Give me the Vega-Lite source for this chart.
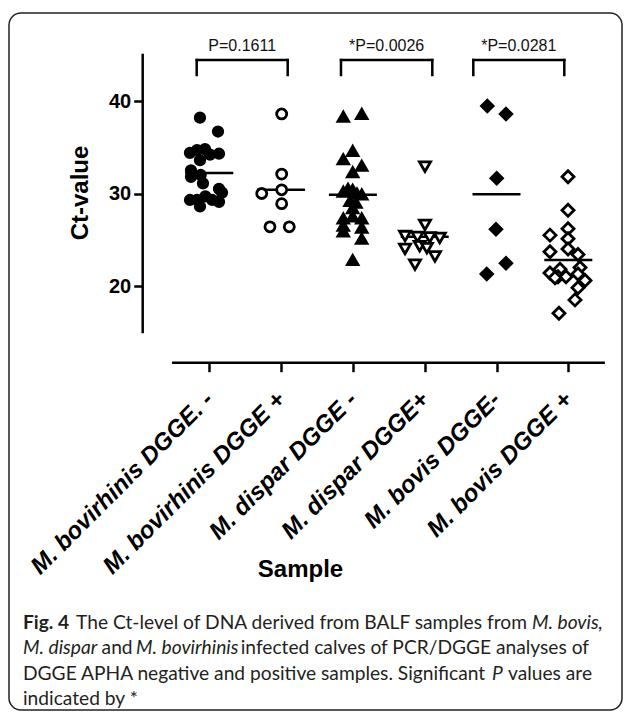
{
  "$schema": "https://vega.github.io/schema/vega-lite/v6.json",
  "width": 613,
  "height": 697,
  "autosize": {"type": "none"},
  "padding": {"left": 9, "top": 13, "right": 8, "bottom": 2},
  "background": "white",
  "config": {
    "view": {"stroke": "#222222", "strokeWidth": 1.5, "cornerRadius": 12},
    "axis": {"grid": false, "domain": false, "tickColor": "black", "tickWidth": 2.5, "tickSize": 9, "labelColor": "black", "titleColor": "black", "labelFont": "Liberation Sans", "titleFont": "Liberation Sans"}
  },
  "data": {
    "values": [
      {"sample": "M. bovirhinis DGGE. -", "group": 1, "xpos": 0.870, "ct": 38.2},
      {"sample": "M. bovirhinis DGGE. -", "group": 1, "xpos": 1.121, "ct": 36.7},
      {"sample": "M. bovirhinis DGGE. -", "group": 1, "xpos": 0.731, "ct": 34.4},
      {"sample": "M. bovirhinis DGGE. -", "group": 1, "xpos": 0.829, "ct": 34.7},
      {"sample": "M. bovirhinis DGGE. -", "group": 1, "xpos": 0.940, "ct": 34.8},
      {"sample": "M. bovirhinis DGGE. -", "group": 1, "xpos": 1.010, "ct": 34.2},
      {"sample": "M. bovirhinis DGGE. -", "group": 1, "xpos": 1.135, "ct": 34.3},
      {"sample": "M. bovirhinis DGGE. -", "group": 1, "xpos": 0.870, "ct": 33.6},
      {"sample": "M. bovirhinis DGGE. -", "group": 1, "xpos": 0.745, "ct": 32.5},
      {"sample": "M. bovirhinis DGGE. -", "group": 1, "xpos": 0.880, "ct": 32.0},
      {"sample": "M. bovirhinis DGGE. -", "group": 1, "xpos": 0.745, "ct": 31.8},
      {"sample": "M. bovirhinis DGGE. -", "group": 1, "xpos": 0.912, "ct": 31.1},
      {"sample": "M. bovirhinis DGGE. -", "group": 1, "xpos": 1.135, "ct": 30.5},
      {"sample": "M. bovirhinis DGGE. -", "group": 1, "xpos": 1.177, "ct": 30.1},
      {"sample": "M. bovirhinis DGGE. -", "group": 1, "xpos": 0.731, "ct": 29.3},
      {"sample": "M. bovirhinis DGGE. -", "group": 1, "xpos": 0.829, "ct": 29.3},
      {"sample": "M. bovirhinis DGGE. -", "group": 1, "xpos": 0.945, "ct": 29.7},
      {"sample": "M. bovirhinis DGGE. -", "group": 1, "xpos": 1.040, "ct": 29.3},
      {"sample": "M. bovirhinis DGGE. -", "group": 1, "xpos": 1.135, "ct": 29.1},
      {"sample": "M. bovirhinis DGGE. -", "group": 1, "xpos": 0.870, "ct": 28.6},
      {"sample": "M. bovirhinis DGGE +", "group": 2, "xpos": 2.008, "ct": 38.6},
      {"sample": "M. bovirhinis DGGE +", "group": 2, "xpos": 2.008, "ct": 32.1},
      {"sample": "M. bovirhinis DGGE +", "group": 2, "xpos": 1.730, "ct": 30.0},
      {"sample": "M. bovirhinis DGGE +", "group": 2, "xpos": 2.008, "ct": 30.4},
      {"sample": "M. bovirhinis DGGE +", "group": 2, "xpos": 2.008, "ct": 28.9},
      {"sample": "M. bovirhinis DGGE +", "group": 2, "xpos": 1.845, "ct": 26.4},
      {"sample": "M. bovirhinis DGGE +", "group": 2, "xpos": 2.114, "ct": 26.4},
      {"sample": "M. dispar DGGE -", "group": 3, "xpos": 2.866, "ct": 38.3},
      {"sample": "M. dispar DGGE -", "group": 3, "xpos": 3.123, "ct": 38.6},
      {"sample": "M. dispar DGGE -", "group": 3, "xpos": 2.997, "ct": 34.6},
      {"sample": "M. dispar DGGE -", "group": 3, "xpos": 2.866, "ct": 33.7},
      {"sample": "M. dispar DGGE -", "group": 3, "xpos": 3.123, "ct": 33.0},
      {"sample": "M. dispar DGGE -", "group": 3, "xpos": 2.997, "ct": 32.3},
      {"sample": "M. dispar DGGE -", "group": 3, "xpos": 2.866, "ct": 30.2},
      {"sample": "M. dispar DGGE -", "group": 3, "xpos": 2.932, "ct": 30.5},
      {"sample": "M. dispar DGGE -", "group": 3, "xpos": 2.997, "ct": 30.4},
      {"sample": "M. dispar DGGE -", "group": 3, "xpos": 3.057, "ct": 30.0},
      {"sample": "M. dispar DGGE -", "group": 3, "xpos": 3.123, "ct": 29.9},
      {"sample": "M. dispar DGGE -", "group": 3, "xpos": 2.960, "ct": 29.2},
      {"sample": "M. dispar DGGE -", "group": 3, "xpos": 3.043, "ct": 29.0},
      {"sample": "M. dispar DGGE -", "group": 3, "xpos": 2.997, "ct": 28.4},
      {"sample": "M. dispar DGGE -", "group": 3, "xpos": 2.866, "ct": 27.3},
      {"sample": "M. dispar DGGE -", "group": 3, "xpos": 2.997, "ct": 27.5},
      {"sample": "M. dispar DGGE -", "group": 3, "xpos": 3.123, "ct": 27.3},
      {"sample": "M. dispar DGGE -", "group": 3, "xpos": 2.866, "ct": 26.5},
      {"sample": "M. dispar DGGE -", "group": 3, "xpos": 3.123, "ct": 26.3},
      {"sample": "M. dispar DGGE -", "group": 3, "xpos": 2.866, "ct": 25.9},
      {"sample": "M. dispar DGGE -", "group": 3, "xpos": 3.123, "ct": 25.1},
      {"sample": "M. dispar DGGE -", "group": 3, "xpos": 2.997, "ct": 22.8},
      {"sample": "M. dispar DGGE+", "group": 4, "xpos": 4.004, "ct": 32.9},
      {"sample": "M. dispar DGGE+", "group": 4, "xpos": 4.004, "ct": 26.6},
      {"sample": "M. dispar DGGE+", "group": 4, "xpos": 3.726, "ct": 25.4},
      {"sample": "M. dispar DGGE+", "group": 4, "xpos": 3.900, "ct": 25.3},
      {"sample": "M. dispar DGGE+", "group": 4, "xpos": 4.070, "ct": 25.25},
      {"sample": "M. dispar DGGE+", "group": 4, "xpos": 4.210, "ct": 25.2},
      {"sample": "M. dispar DGGE+", "group": 4, "xpos": 3.726, "ct": 24.0},
      {"sample": "M. dispar DGGE+", "group": 4, "xpos": 3.930, "ct": 24.3},
      {"sample": "M. dispar DGGE+", "group": 4, "xpos": 4.030, "ct": 24.1},
      {"sample": "M. dispar DGGE+", "group": 4, "xpos": 4.143, "ct": 23.2},
      {"sample": "M. dispar DGGE+", "group": 4, "xpos": 3.865, "ct": 22.3},
      {"sample": "M. bovis DGGE-", "group": 5, "xpos": 4.872, "ct": 39.46},
      {"sample": "M. bovis DGGE-", "group": 5, "xpos": 5.132, "ct": 38.6},
      {"sample": "M. bovis DGGE-", "group": 5, "xpos": 5.003, "ct": 31.64},
      {"sample": "M. bovis DGGE-", "group": 5, "xpos": 4.993, "ct": 26.13},
      {"sample": "M. bovis DGGE-", "group": 5, "xpos": 5.132, "ct": 22.45},
      {"sample": "M. bovis DGGE-", "group": 5, "xpos": 4.864, "ct": 21.3},
      {"sample": "M. bovis DGGE +", "group": 6, "xpos": 5.996, "ct": 31.8},
      {"sample": "M. bovis DGGE +", "group": 6, "xpos": 5.996, "ct": 28.2},
      {"sample": "M. bovis DGGE +", "group": 6, "xpos": 5.996, "ct": 26.2},
      {"sample": "M. bovis DGGE +", "group": 6, "xpos": 5.745, "ct": 25.5},
      {"sample": "M. bovis DGGE +", "group": 6, "xpos": 5.996, "ct": 25.1},
      {"sample": "M. bovis DGGE +", "group": 6, "xpos": 6.135, "ct": 23.4},
      {"sample": "M. bovis DGGE +", "group": 6, "xpos": 5.996, "ct": 24.0},
      {"sample": "M. bovis DGGE +", "group": 6, "xpos": 5.745, "ct": 23.7},
      {"sample": "M. bovis DGGE +", "group": 6, "xpos": 6.163, "ct": 22.0},
      {"sample": "M. bovis DGGE +", "group": 6, "xpos": 5.884, "ct": 21.8},
      {"sample": "M. bovis DGGE +", "group": 6, "xpos": 5.745, "ct": 21.4},
      {"sample": "M. bovis DGGE +", "group": 6, "xpos": 5.857, "ct": 21.0},
      {"sample": "M. bovis DGGE +", "group": 6, "xpos": 5.968, "ct": 21.0},
      {"sample": "M. bovis DGGE +", "group": 6, "xpos": 6.135, "ct": 21.3},
      {"sample": "M. bovis DGGE +", "group": 6, "xpos": 6.233, "ct": 20.6},
      {"sample": "M. bovis DGGE +", "group": 6, "xpos": 6.135, "ct": 19.8},
      {"sample": "M. bovis DGGE +", "group": 6, "xpos": 6.093, "ct": 18.5},
      {"sample": "M. bovis DGGE +", "group": 6, "xpos": 5.870, "ct": 17.05},
      {"sample": "M. bovis DGGE +", "group": 6, "xpos": 5.815, "ct": 20.9}
    ]
  },
  "layer": [
    {
      "mark": {"type": "tick", "orient": "horizontal", "size": 48, "thickness": 2.5, "color": "black"},
      "encoding": {
        "x": {"field": "group", "type": "quantitative", "scale": {"domain": [-1.7897, 6.7479], "nice": false, "zero": false},
          "axis": {"values": [1, 2, 3, 4, 5, 6], "labelExpr": "['M. bovirhinis DGGE. -','M. bovirhinis DGGE +','M. dispar DGGE -','M. dispar DGGE+','M. bovis DGGE-','M. bovis DGGE +'][datum.value - 1]", "offset": -347.3, "labelAngle": -45, "labelAlign": "right", "labelBaseline": "middle", "labelFontSize": 24, "labelFontWeight": "bold", "labelFontStyle": "italic", "labelPadding": 24, "labelLimit": 0, "labelFlush": false, "labelOverlap": false, "labelBound": false, "title": "Sample", "titleFontSize": 24, "titleFontWeight": "bold", "titleX": 291, "titleY": 207, "titleAlign": "center", "titleBaseline": "middle", "titleAngle": 0}},
        "y": {"aggregate": "mean", "field": "ct", "type": "quantitative", "scale": {"domain": [-25.838, 49.514], "nice": false, "zero": false},
          "axis": {"values": [20, 30, 40], "offset": -133.7, "labelFontSize": 20, "labelFontWeight": "bold", "labelPadding": 3, "title": "Ct-value", "titleFontSize": 24, "titleFontWeight": "bold", "titleX": -62, "titleY": 179.5, "titleAngle": 270, "titleAlign": "center", "titleBaseline": "middle"}}
      }
    },
    {
      "mark": {"type": "point", "filled": true, "stroke": "black", "strokeWidth": 2.8, "opacity": 1, "fillOpacity": 1},
      "encoding": {
        "x": {"field": "xpos", "type": "quantitative"},
        "y": {"field": "ct", "type": "quantitative"},
        "shape": {"field": "sample", "type": "nominal", "legend": null, "scale": {"domain": ["M. bovirhinis DGGE. -", "M. bovirhinis DGGE +", "M. dispar DGGE -", "M. dispar DGGE+", "M. bovis DGGE-", "M. bovis DGGE +"], "range": ["circle", "circle", "triangle-up", "triangle-down", "diamond", "diamond"]}},
        "fill": {"field": "sample", "type": "nominal", "legend": null, "scale": {"domain": ["M. bovirhinis DGGE. -", "M. bovirhinis DGGE +", "M. dispar DGGE -", "M. dispar DGGE+", "M. bovis DGGE-", "M. bovis DGGE +"], "range": ["black", "white", "black", "white", "black", "white"]}},
        "size": {"field": "sample", "type": "ordinal", "legend": null, "scale": {"domain": ["M. bovirhinis DGGE. -", "M. bovirhinis DGGE +", "M. dispar DGGE -", "M. dispar DGGE+", "M. bovis DGGE-", "M. bovis DGGE +"], "range": [90, 144, 81, 121, 144, 240]}}
      }
    },
    {
      "data": {"values": [{}]},
      "mark": {"type": "rule", "color": "black", "strokeWidth": 2.5},
      "encoding": {
        "x": {"datum": 0.0724, "type": "quantitative"},
        "y": {"datum": 14.9, "type": "quantitative"},
        "y2": {"datum": 45.1}
      }
    },
    {
      "data": {"values": [{}]},
      "mark": {"type": "rule", "color": "black", "strokeWidth": 2.5},
      "encoding": {
        "x": {"datum": 0.48, "type": "quantitative"},
        "x2": {"datum": 6.51},
        "y": {"datum": 11.708, "type": "quantitative"}
      }
    },
    {
      "data": {"name": "brackets", "values": [
        {"from": 0.8245, "to": 2.0919, "mid": 1.4582, "label": "P=0.1611"},
        {"from": 2.834, "to": 4.1058, "mid": 3.4699, "label": "*P=0.0026"},
        {"from": 4.677, "to": 5.9443, "mid": 5.3107, "label": "*P=0.0281"}
      ]},
      "layer": [
        {
          "mark": {"type": "rule", "color": "black", "strokeWidth": 2.5, "strokeCap": "square"},
          "encoding": {
            "x": {"field": "from", "type": "quantitative"},
            "x2": {"field": "to"},
            "y": {"datum": 44.43, "type": "quantitative"}
          }
        },
        {
          "mark": {"type": "rule", "color": "black", "strokeWidth": 2.5, "strokeCap": "square"},
          "encoding": {
            "x": {"field": "from", "type": "quantitative"},
            "y": {"datum": 44.43, "type": "quantitative"},
            "y2": {"datum": 42.81}
          }
        },
        {
          "mark": {"type": "rule", "color": "black", "strokeWidth": 2.5, "strokeCap": "square"},
          "encoding": {
            "x": {"field": "to", "type": "quantitative"},
            "y": {"datum": 44.43, "type": "quantitative"},
            "y2": {"datum": 42.81}
          }
        },
        {
          "mark": {"type": "text", "font": "Liberation Sans", "fontSize": 16, "baseline": "middle", "align": "center", "color": "#111111"},
          "encoding": {
            "x": {"field": "mid", "type": "quantitative"},
            "y": {"datum": 45.95, "type": "quantitative"},
            "text": {"field": "label"}
          }
        }
      ]
    },
    {
      "data": {"values": [{}]},
      "layer": [
        {"mark": {"type": "text", "text": "Fig. 4", "font": "Lato", "fontSize": 19.2, "fontWeight": "bold", "align": "left", "baseline": "middle", "color": "#231f20"},
         "encoding": {"x": {"datum": -1.5947, "type": "quantitative"}, "y": {"datum": -16.432, "type": "quantitative"}}},
        {"mark": {"type": "text", "text": "The Ct-level of DNA derived from BALF samples from", "font": "Lato", "fontSize": 19.2, "align": "left", "baseline": "middle", "color": "#231f20"},
         "encoding": {"x": {"datum": -0.8565, "type": "quantitative"}, "y": {"datum": -16.432, "type": "quantitative"}}},
        {"mark": {"type": "text", "text": "M. bovis,", "font": "Lato", "fontSize": 19.2, "fontStyle": "italic", "align": "left", "baseline": "middle", "color": "#231f20"},
         "encoding": {"x": {"datum": 5.4944, "type": "quantitative"}, "y": {"datum": -16.432, "type": "quantitative"}}},
        {"mark": {"type": "text", "text": "M. dispar", "font": "Lato", "fontSize": 19.2, "fontStyle": "italic", "align": "left", "baseline": "middle", "color": "#231f20"},
         "encoding": {"x": {"datum": -1.5947, "type": "quantitative"}, "y": {"datum": -19.189, "type": "quantitative"}}},
        {"mark": {"type": "text", "text": "and", "font": "Lato", "fontSize": 19.2, "align": "left", "baseline": "middle", "color": "#231f20"},
         "encoding": {"x": {"datum": -0.5, "type": "quantitative"}, "y": {"datum": -19.189, "type": "quantitative"}}},
        {"mark": {"type": "text", "text": "M. bovirhinis", "font": "Lato", "fontSize": 19.2, "fontStyle": "italic", "align": "left", "baseline": "middle", "color": "#231f20"},
         "encoding": {"x": {"datum": -0.02, "type": "quantitative"}, "y": {"datum": -19.189, "type": "quantitative"}}},
        {"mark": {"type": "text", "text": "infected calves of PCR/DGGE analyses of", "font": "Lato", "fontSize": 19.2, "align": "left", "baseline": "middle", "color": "#231f20"},
         "encoding": {"x": {"datum": 1.4376, "type": "quantitative"}, "y": {"datum": -19.189, "type": "quantitative"}}},
        {"mark": {"type": "text", "text": "DGGE APHA negative and positive samples. Significant", "font": "Lato", "fontSize": 19.2, "align": "left", "baseline": "middle", "color": "#231f20"},
         "encoding": {"x": {"datum": -1.5947, "type": "quantitative"}, "y": {"datum": -21.946, "type": "quantitative"}}},
        {"mark": {"type": "text", "text": "P", "font": "Lato", "fontSize": 19.2, "fontStyle": "italic", "align": "left", "baseline": "middle", "color": "#231f20"},
         "encoding": {"x": {"datum": 4.9373, "type": "quantitative"}, "y": {"datum": -21.946, "type": "quantitative"}}},
        {"mark": {"type": "text", "text": "values are", "font": "Lato", "fontSize": 19.2, "align": "left", "baseline": "middle", "color": "#231f20"},
         "encoding": {"x": {"datum": 5.1602, "type": "quantitative"}, "y": {"datum": -21.946, "type": "quantitative"}}},
        {"mark": {"type": "text", "text": "indicated by *", "font": "Lato", "fontSize": 19.2, "align": "left", "baseline": "middle", "color": "#231f20"},
         "encoding": {"x": {"datum": -1.5947, "type": "quantitative"}, "y": {"datum": -24.649, "type": "quantitative"}}}
      ]
    }
  ]
}
